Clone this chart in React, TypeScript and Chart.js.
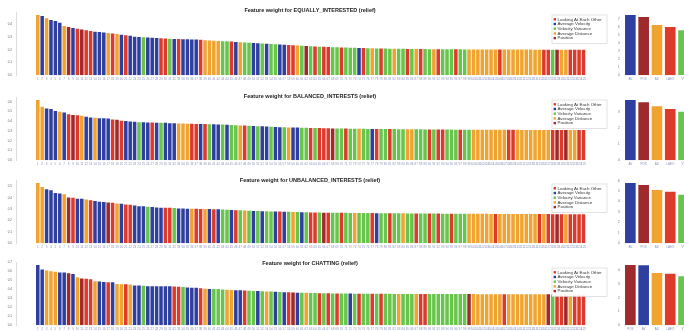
import React, { useEffect, useRef } from "react";
import { Chart, registerables } from "chart.js";

Chart.register(...registerables);

const FONT = "'Liberation Sans', Arial, sans-serif";

// Feature categories (legend)
const CATEGORY_NAMES = ["Looking At Each Other", "Average Velocity", "Velocity Variance", "Average Distance", "Position"];
const CATEGORY_CODES = ["L", "V", "S", "D", "P"];
const CATEGORY_COLORS = ["#dd3a2c", "#2f3f9f", "#68c54c", "#f0a32f", "#9f2a2b"];

const TITLES = [
  "Feature weight for EQUALLY_INTERESTED (relief)",
  "Feature weight for BALANCED_INTERESTS (relief)",
  "Feature weight for UNBALANCED_INTERESTS (relief)",
  "Feature weight for CHATTING (relief)",
];

// Bar category codes (one letter per bar, sorted by weight)
const EQ_CODES = ("DVDVVVDPVLPLLVVVDLDVLVVVSVVVLLSVLVVVVLDDDD" + "SSLVDSSVVSVSSVVLLDSPSLSLLSSLSSSVLSDSLSSDSSLSDLSSD" + "LSSSLSSDDDDDDDLDDDDDDDDDLLSPDDLLLL").split("");
const BAL_CODES = ("DDVVVDVLPLDVVDVVVLPLVVVSVVLVSVVVDDDLLVLSVV" + "SVSSDLSVSVVSVVSDVVSSLSLLLPSSLSSDSSVLSSLSSSDDSSSLSL" + "LSSSLSSDDDDDDDDLLDDDDDDDDLPLPDDLL").split("");
const UNB_CODES = ("DDVVVVDPLVVDLVVVPLDVLLVVVSVVVLLSVVVDLLDVLV" + "SSVLSDSVSVSSVLVSDSVSLLSPLSSLSSDSSSLVSSLSSDSSLSSLSL" + "SSLSSSDDDDDDLDDDDDDDDDLDLLPLDLLLL").split("");
const CHAT_CODES = ("VVDDDVVPVDPLLDVVLVDDLDVVSVVVVVVLLSVVVLDVSS" + "SDDVVLSSVSDSVSVLPVSDSSLSLSLSSVSLSSLSLSSSDSSSDLLSSS" + "SSSSSSPDDDDDDDLDDDDDDDDDPSLLPDLLL").split("");

// Feature weights
const EQ_VALUES = [
  .474, .466, .448, .435, .427, .414, .387, .380, .372, .366, .360, .354, .348, .343, .340, .336, .332, .328, .325, .318,
  .314, .310, .304, .302, .300, .298, .296, .294, .291, .290, .288, .286, .285, .284, .283, .282, .281, .279, .275, .273,
  .272, .270, .268, .267, .266,
  .262, .260, .258, .256, .254, .252, .250, .248, .246, .244, .242, .240, .238, .236, .234, .232, .230, .228, .226, .225,
  .224, .222, .221, .220, .219, .218, .217, .216, .215, .214, .213, .212, .211, .210, .210, .209, .209, .208, .208, .207,
  .207, .206, .206, .206, .205, .205,
  .205, .204, .204, .204, .204, .204, .203, .203, .203, .203, .203, .203, .203, .202, .202, .202, .202, .202, .202, .202,
  .202, .202, .201, .201, .201, .201, .201, .201, .201, .201, .200, .200, .200, .200,
];
const BAL_VALUES = [
  .618, .549, .532, .526, .505, .498, .491, .471, .464, .462, .457, .447, .440, .437, .432, .430, .428, .418, .416, .405,
  .402, .397, .395, .390, .389, .388, .387, .386, .385, .384, .380, .379, .378, .376, .375, .374, .373, .372, .371, .370,
  .369, .368,
  .366, .364, .362, .360, .358, .356, .354, .352, .350, .348, .346, .344, .342, .340, .338, .337, .336, .335, .334, .333,
  .332, .331, .330, .329, .328, .327, .326, .325, .325, .324, .324, .323, .323, .322, .322, .321, .321, .320, .320, .320,
  .319, .319, .319, .318, .318, .318, .317, .317, .317, .316,
  .315, .315, .315, .314, .314, .314, .314, .313, .313, .313, .313, .313, .312, .312, .312, .312, .312, .312, .311, .311,
  .311, .311, .311, .311, .311, .310, .310, .310, .310, .310, .310, .310, .310,
];
const UNB_VALUES = [
  .529, .494, .474, .465, .442, .436, .430, .402, .400, .392, .391, .384, .378, .372, .364, .362, .358, .356, .350, .348,
  .341, .339, .331, .326, .325, .320, .319, .314, .313, .312, .311, .310, .306, .305, .304, .304, .303, .302, .301, .300,
  .299, .298,
  .297, .295, .293, .291, .289, .287, .285, .284, .283, .282, .281, .280, .279, .278, .277, .276, .275, .274, .273, .272,
  .271, .270, .270, .269, .269, .268, .268, .267, .267, .266, .266, .266, .265, .265, .265, .264, .264, .264, .263, .263,
  .263, .263, .262, .262, .262, .262, .261, .261, .261, .261,
  .260, .260, .260, .260, .260, .259, .259, .259, .259, .259, .259, .258, .258, .258, .258, .258, .258, .258, .257, .257,
  .257, .257, .257, .257, .257, .256, .256, .256, .256, .256, .256, .256, .256,
];
const CHAT_VALUES = [
  .669, .620, .608, .601, .593, .587, .585, .578, .570, .532, .518, .516, .510, .488, .486, .480, .479, .478, .458, .456,
  .455, .454, .442, .441, .440, .434, .434, .433, .433, .432, .432, .431, .427, .425, .419, .418, .417, .411, .405, .404,
  .403, .402,
  .398, .395, .392, .390, .388, .386, .384, .382, .380, .378, .376, .374, .372, .370, .368, .366, .364, .362, .361, .360,
  .359, .358, .357, .356, .355, .354, .353, .353, .352, .352, .351, .351, .350, .350, .350, .349, .349, .349, .349, .348,
  .348, .348, .348, .348, .347, .347, .347, .347, .347, .347,
  .346, .346, .346, .346, .346, .346, .346, .346, .345, .345, .345, .345, .345, .345, .345, .345, .345, .344, .344, .344,
  .344, .344, .344, .344, .344, .343, .343, .343, .343, .343, .343, .343, .343,
];

const FEATURE_IDS = EQ_VALUES.map((_, i) => String(i + 1));

// Per-category summary (right-hand charts)
const EQ_SUM_CODES = ["V", "P", "D", "L", "S"];
const EQ_SUM_VALUES = [7.5, 7.24, 6.26, 6.0, 5.6];
const BAL_SUM_CODES = ["V", "P", "D", "L", "S"];
const BAL_SUM_VALUES = [3.78, 3.64, 3.39, 3.22, 3.05];
const UNB_SUM_CODES = ["V", "P", "D", "L", "S"];
const UNB_SUM_VALUES = [5.78, 5.6, 5.1, 4.95, 4.65];
const CHAT_SUM_CODES = ["P", "V", "D", "L", "S"];
const CHAT_SUM_VALUES = [4.41, 4.4, 3.83, 3.78, 3.58];
const SUM_LABEL_OF: Record<string, string> = { L: "LAEO", V: "AV", S: "VV", D: "AD", P: "POS" };

const colorOf = (c: string) => CATEGORY_COLORS[CATEGORY_CODES.indexOf(c)];

type Spec = {
  title: string;
  codes: string[];
  values: number[];
  sumCodes: string[];
  sumValues: number[];
  top: number;
  titleY: number;
  legendY: number;
};

const SPECS: Spec[] = [
  { title: TITLES[0], codes: EQ_CODES, values: EQ_VALUES, sumCodes: EQ_SUM_CODES, sumValues: EQ_SUM_VALUES, top: 0, titleY: 10.7, legendY: 15 },
  { title: TITLES[1], codes: BAL_CODES, values: BAL_VALUES, sumCodes: BAL_SUM_CODES, sumValues: BAL_SUM_VALUES, top: 85, titleY: 11.7, legendY: 15 },
  { title: TITLES[2], codes: UNB_CODES, values: UNB_VALUES, sumCodes: UNB_SUM_CODES, sumValues: UNB_SUM_VALUES, top: 168, titleY: 12.5, legendY: 16 },
  { title: TITLES[3], codes: CHAT_CODES, values: CHAT_VALUES, sumCodes: CHAT_SUM_CODES, sumValues: CHAT_SUM_VALUES, top: 250, titleY: 13.3, legendY: 18 },
];

const MAIN_W = 612;
const SMALL_W = 92;
const H = 85;

function Panel({ spec }: { spec: Spec }) {
  const mainRef = useRef<HTMLCanvasElement | null>(null);
  const smallRef = useRef<HTMLCanvasElement | null>(null);

  useEffect(() => {
    if (!mainRef.current || !smallRef.current) return;
    const maxV = Math.max(...spec.values);
    const overlay = {
      id: "overlay",
      afterDraw(chart: any) {
        const ctx = chart.ctx as CanvasRenderingContext2D;
        ctx.save();
        ctx.font = `bold 5.5px ${FONT}`;
        ctx.fillStyle = "#222";
        ctx.textAlign = "center";
        ctx.textBaseline = "middle";
        ctx.fillText(spec.title, 310, spec.titleY);
        // legend box
        const lx = 552, ly = spec.legendY, lw = 55, lh = 28.5;
        ctx.fillStyle = "rgba(255,255,255,0.92)";
        ctx.fillRect(lx, ly, lw, lh);
        ctx.strokeStyle = "#cfcfcf";
        ctx.lineWidth = 0.6;
        ctx.strokeRect(lx, ly, lw, lh);
        ctx.font = `4.4px ${FONT}`;
        ctx.textAlign = "left";
        CATEGORY_NAMES.forEach((name, i) => {
          const y = ly + 4.3 + i * 4.7;
          ctx.fillStyle = CATEGORY_COLORS[i];
          ctx.fillRect(lx + 1.6, y - 1.2, 2.4, 2.4);
          ctx.fillStyle = "#333";
          ctx.fillText(name, lx + 5.5, y);
        });
        ctx.restore();
      },
    };

    const main = new Chart(mainRef.current, {
      type: "bar",
      data: {
        datasets: [
          {
            data: spec.values.map((v, i) => ({ x: i, y: v })),
            backgroundColor: spec.codes.map(colorOf),
            borderWidth: 0,
            barPercentage: 0.8,
            categoryPercentage: 1,
          } as any,
        ],
      },
      options: {
        responsive: false,
        maintainAspectRatio: false,
        animation: false,
        layout: { padding: { top: 12, right: 3, bottom: 0, left: 0 } },
        plugins: { legend: { display: false }, tooltip: { enabled: false } },
        scales: {
          x: {
            type: "linear",
            min: -4.95,
            max: 129.8,
            offset: false,
            grid: { display: false, drawTicks: false },
            border: { display: false },
            afterBuildTicks: (s: any) => {
              s.ticks = spec.values.map((_, i) => ({ value: i }));
            },
            afterFit: (s: any) => {
              s.height = 9.7;
            },
            ticks: {
              autoSkip: false,
              maxRotation: 0,
              minRotation: 0,
              padding: 2.5,
              font: { size: 3, family: FONT },
              color: "#8a93b8",
              callback: (v: any) => FEATURE_IDS[v] ?? "",
            },
          },
          y: {
            min: 0,
            max: maxV * 1.05,
            grid: { display: false, drawTicks: false },
            border: { display: true, color: "#d4d4d4", width: 0.8 },
            afterFit: (s: any) => {
              s.width = 16;
            },
            ticks: {
              stepSize: 0.1,
              includeBounds: false,
              padding: 4,
              font: { size: 3, family: FONT },
              color: "#666",
              callback: (v: any) => Number(v).toFixed(1),
            },
          },
        },
      } as any,
      plugins: [overlay],
    });

    const sumMax = Math.max(...spec.sumValues);
    const small = new Chart(smallRef.current, {
      type: "bar",
      data: {
        labels: spec.sumCodes.map((c) => SUM_LABEL_OF[c]),
        datasets: [
          {
            data: spec.sumValues,
            backgroundColor: spec.sumCodes.map(colorOf),
            borderWidth: 0,
            barPercentage: 0.8,
            categoryPercentage: 1,
          },
        ],
      },
      options: {
        responsive: false,
        maintainAspectRatio: false,
        animation: false,
        layout: { padding: { top: 12, right: 1.8, bottom: 0, left: 0 } },
        plugins: { legend: { display: false }, tooltip: { enabled: false } },
        scales: {
          x: {
            grid: { display: false, drawTicks: false },
            border: { display: false },
            afterFit: (s: any) => {
              s.height = 9.7;
            },
            ticks: {
              autoSkip: false,
              maxRotation: 0,
              minRotation: 0,
              padding: 2.5,
              font: { size: 3, family: FONT },
              color: "#8a93b8",
            },
          },
          y: {
            min: 0,
            max: sumMax * 1.05,
            grid: { display: false, drawTicks: false },
            border: { display: false },
            afterFit: (s: any) => {
              s.width = 23.7;
            },
            ticks: {
              stepSize: 1,
              includeBounds: false,
              padding: 4,
              font: { size: 3, family: FONT },
              color: "#666",
            },
          },
        },
      } as any,
    });

    return () => {
      main.destroy();
      small.destroy();
    };
  }, [spec]);

  return (
    <>
      <canvas
        ref={mainRef}
        width={MAIN_W}
        height={H}
        style={{ position: "absolute", left: 0, top: spec.top, width: MAIN_W, height: H }}
      />
      <canvas
        ref={smallRef}
        width={SMALL_W}
        height={H}
        style={{ position: "absolute", left: 600, top: spec.top, width: SMALL_W, height: H }}
      />
    </>
  );
}

export default function App() {
  return (
    <div
      style={{
        position: "absolute",
        left: 0,
        top: 0,
        width: 684,
        height: 331,
        overflow: "hidden",
        background: "#fff",
      }}
    >
      {SPECS.map((s, i) => (
        <Panel key={i} spec={s} />
      ))}
    </div>
  );
}
